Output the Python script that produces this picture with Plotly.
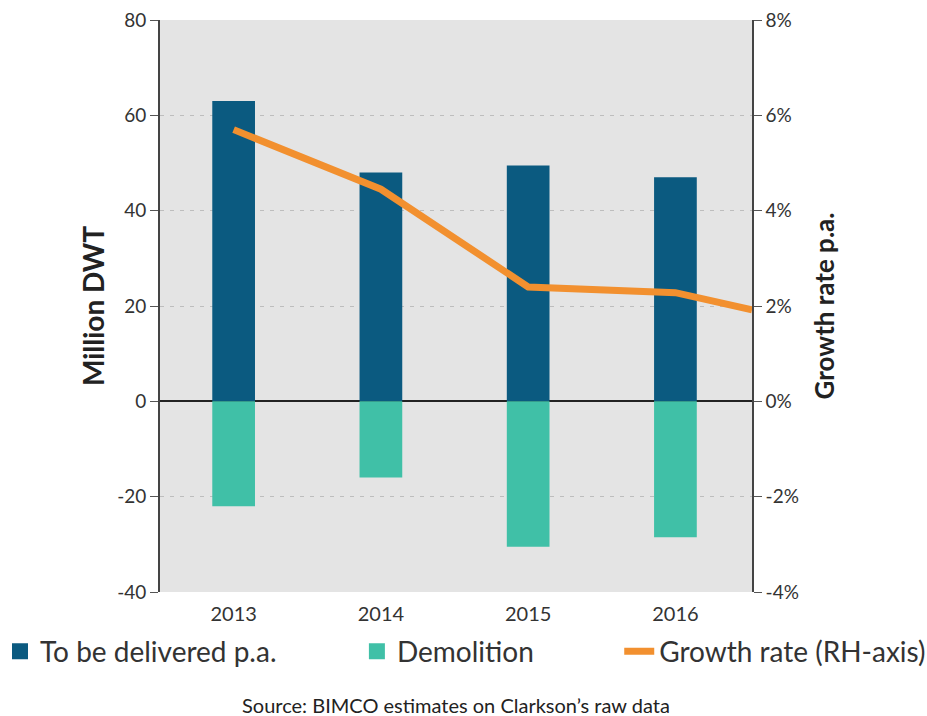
import plotly.graph_objects as go

# Fleet supply data
years = [2013, 2014, 2015, 2016]
delivered = [63, 48, 49.5, 47]
demolition = [-22, -16, -30.5, -28.5]

# Growth rate line (percent), running to the right edge of the chart
growth_years = [2013, 2014, 2015, 2016, 2016.52]
growth_rate = [5.7, 4.45, 2.4, 2.28, 1.92]

left_ticks = [-40, -20, 0, 20, 40, 60, 80]
right_ticks = [-4, -2, 0, 2, 4, 6, 8]
left_labels = [str(v) for v in left_ticks]
right_labels = [f"{v}%" for v in right_ticks]

BLUE = "#0b5a80"
TEAL = "#40c0a7"
ORANGE = "#f2902f"
TEXT = "#333333"

fig = go.Figure()
fig.add_trace(go.Bar(x=years, y=delivered, name="To be delivered p.a.",
                     marker=dict(color=BLUE, line=dict(width=0)), width=0.29,
                     showlegend=False))
fig.add_trace(go.Bar(x=years, y=demolition, name="Demolition",
                     marker=dict(color=TEAL, line=dict(width=0)), width=0.29,
                     showlegend=False))
fig.add_trace(go.Scatter(x=growth_years, y=growth_rate, name="Growth rate (RH-axis)",
                         mode="lines", line=dict(color=ORANGE, width=7),
                         yaxis="y2", legend="legend3", cliponaxis=False))

# Legend keys for the two bar series (square swatches)
fig.add_trace(go.Scatter(x=[None], y=[None], mode="markers", name="To be delivered p.a.",
                         marker=dict(symbol="square", size=20, color=BLUE),
                         legend="legend"))
fig.add_trace(go.Scatter(x=[None], y=[None], mode="markers", name="Demolition",
                         marker=dict(symbol="square", size=20, color=TEAL),
                         legend="legend2"))

legend_common = dict(orientation="h", xref="container", yref="container",
                     yanchor="middle", bgcolor="rgba(0,0,0,0)",
                     font=dict(family="Lato", size=28, color=TEXT))

fig.update_layout(
    width=927, height=716,
    margin=dict(l=160, r=175, t=20, b=124, autoexpand=False),
    paper_bgcolor="white",
    plot_bgcolor="#e4e4e4",
    barmode="relative",
    showlegend=True,
    xaxis=dict(range=[2012.5, 2016.52], tickvals=years, ticktext=[str(y) for y in years],
               showgrid=False, zeroline=False, showline=False, ticks="",
               ticklabelstandoff=8,
               tickfont=dict(family="Lato", size=20, color=TEXT)),
    yaxis=dict(range=[-40, 80], tickvals=left_ticks, ticktext=left_labels,
               showgrid=True, gridcolor="#bdbdbd", griddash="4px,6px", gridwidth=1.2,
               zeroline=True, zerolinecolor="#222222", zerolinewidth=1.6,
               showline=True, linecolor="#444444", linewidth=1.6,
               ticks="outside", ticklen=8, tickcolor="#555555",
               tickfont=dict(family="Lato", size=19, color=TEXT),
               title=dict(text="<b>Million DWT</b>", standoff=4,
                          font=dict(family="Lato", size=28, color="#222222"))),
    yaxis2=dict(range=[-4, 8], tickvals=right_ticks, ticktext=right_labels,
                overlaying="y", side="right",
                showgrid=False, zeroline=False,
                showline=True, linecolor="#444444", linewidth=1.6,
                ticks="outside", ticklen=8, tickcolor="#555555",
                tickfont=dict(family="Lato", size=19, color=TEXT),
                title=dict(text="<b>Growth rate p.a.</b>", standoff=18,
                           font=dict(family="Lato", size=26, color="#222222"))),
    legend=dict(x=0.0, y=0.09, **legend_common),
    legend2=dict(x=0.385, y=0.09, **legend_common),
    legend3=dict(x=0.668, y=0.09, **legend_common),
    annotations=[dict(text="Source: BIMCO estimates on Clarkson\u2019s raw data",
                      xref="paper", yref="paper", x=0.5, y=-0.197,
                      xanchor="center", yanchor="middle", showarrow=False,
                      font=dict(family="Lato", size=20, color="#222222"))],
)

fig.write_html("out.html")
